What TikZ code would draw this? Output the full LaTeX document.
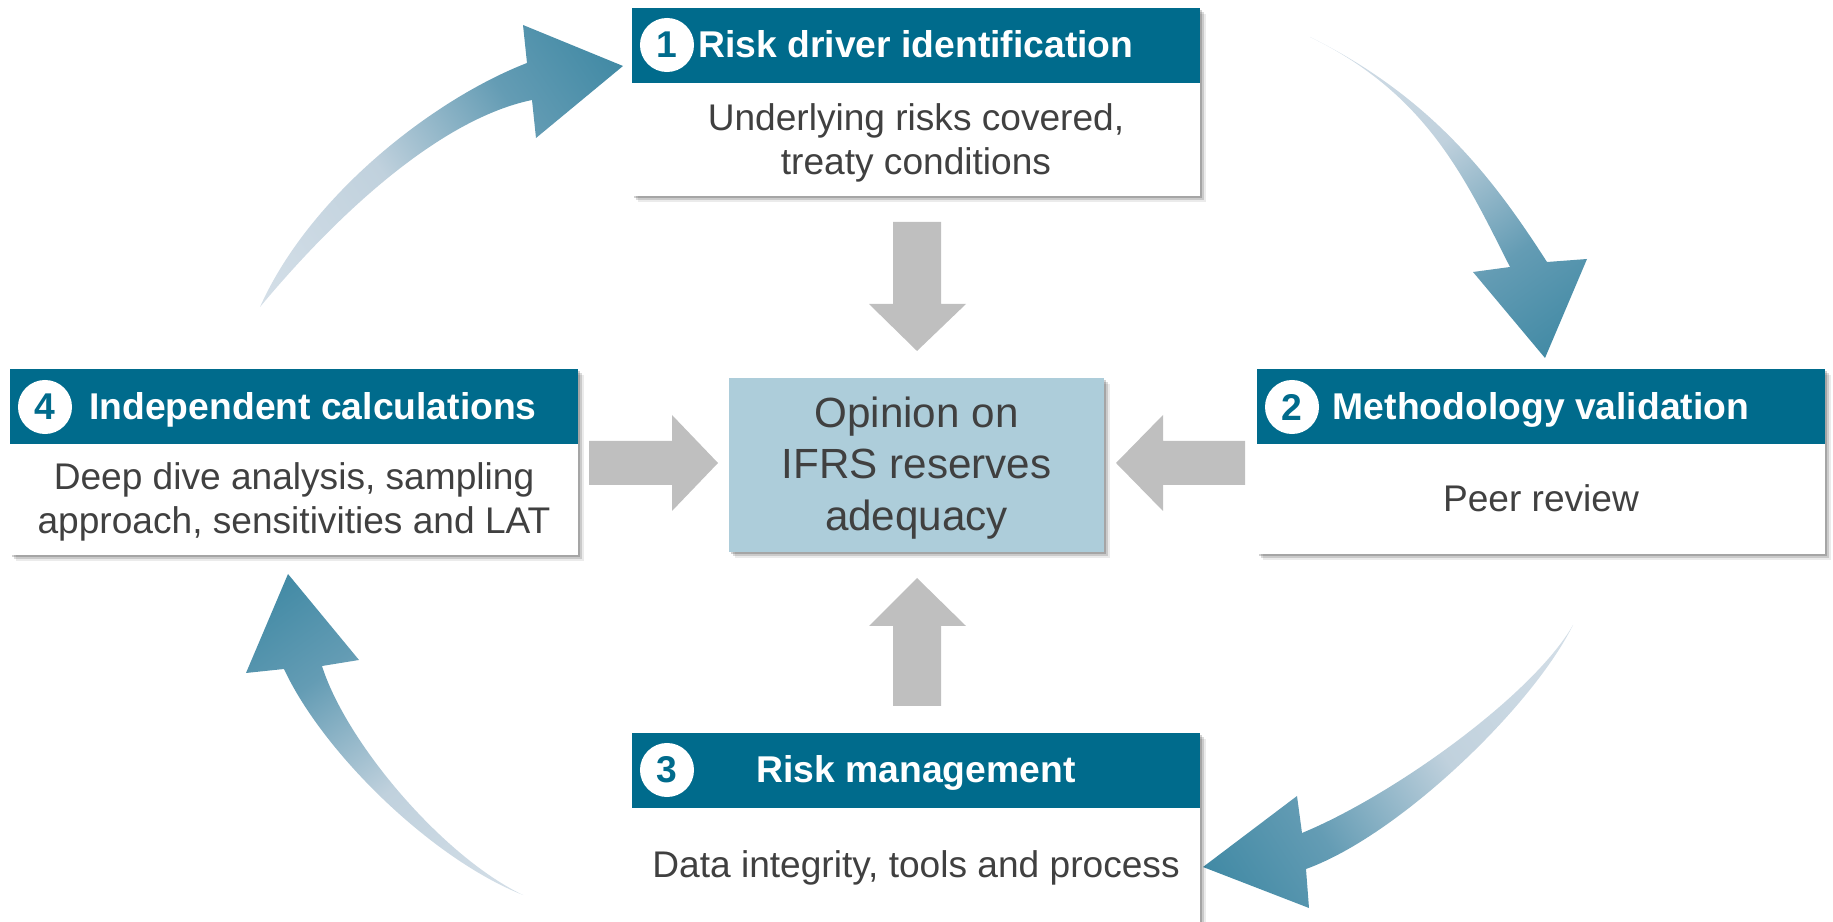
\documentclass[tikz,border=0pt]{standalone}
\usepackage{fontspec}
\setmainfont{Liberation Sans}
\usetikzlibrary{shadows}
\definecolor{hdrc}{RGB}{0,107,140}
\definecolor{txtc}{RGB}{64,64,64}
\definecolor{ctrc}{RGB}{173,205,218}
\definecolor{arrgray}{RGB}{191,191,191}
\definecolor{cl}{RGB}{224,231,238}
\definecolor{cm}{RGB}{192,209,221}
\definecolor{ck}{RGB}{100,156,180}
\definecolor{cd}{RGB}{28,118,148}
\pgfdeclarehorizontalshading{cycshade}{100bp}{color(0bp)=(cl); color(42bp)=(cm); color(64bp)=(ck); color(100bp)=(cd)}
\begin{document}
\begin{tikzpicture}[x=0.01cm,y=-0.01cm,
  softshadow/.style={
    drop shadow={shadow xshift=0.5pt, shadow yshift=-0.5pt, fill=black, opacity=0.18},
    drop shadow={shadow xshift=1.1pt, shadow yshift=-1.1pt, fill=black, opacity=0.14},
    drop shadow={shadow xshift=1.7pt, shadow yshift=-1.7pt, fill=black, opacity=0.08}},
  bodybox/.style={fill=white, inner sep=0, minimum width=5.68cm, softshadow},
  hdr/.style={fill=hdrc, inner sep=0, minimum width=5.68cm, minimum height=0.75cm},
  num/.style={circle, fill=white, inner sep=0, minimum size=0.54cm, text=hdrc,
    font=\fontsize{10.6}{12}\selectfont\bfseries},
  ttl/.style={text=white, anchor=base, inner sep=0, font=\fontsize{10.6}{12}\selectfont\bfseries},
  bodytxt/.style={text=txtc, align=center, inner sep=0, font=\fontsize{10.55}{12.5}\selectfont},
  ctrbox/.style={fill=ctrc, inner sep=0, minimum width=3.75cm, minimum height=1.74cm, softshadow},
  ctrtxt/.style={text=txtc, align=center, inner sep=0, font=\fontsize{12}{14.65}\selectfont},
  grayarrow/.style={fill=arrgray},
  cyc/.style={shading=cycshade}
]
\useasboundingbox (0,0) rectangle (1833,922);
\clip (0,0) rectangle (1833,922);

% curved cycle arrows
\shade[cyc, shading angle=34] (260,307) .. controls (310,195) and (434,99) .. (527,63)
  -- (523,25) -- (623,66) -- (536,138) -- (532,100)
  .. controls (445,118) and (345,205) .. (260,307) -- cycle;
\shade[cyc, shading angle=-54] (1310,37) .. controls (1436,99) and (1498,186) .. (1547,262)
  -- (1587,259) -- (1545,358) -- (1473,272) -- (1510,267)
  .. controls (1465,178) and (1427,94) .. (1310,37) -- cycle;
\shade[cyc, shading angle=213] (1573,625) .. controls (1533,706) and (1400,835) .. (1306,869)
  -- (1309,908) -- (1203,867) -- (1297,796) -- (1302,833)
  .. controls (1394,795) and (1533,695) .. (1573,625) -- cycle;
\shade[cyc, shading angle=126] (523,895) .. controls (430,858) and (322,751) .. (284,669)
  -- (246,673) -- (288,574) -- (359,660) -- (322,666)
  .. controls (346,742) and (442,856) .. (523,895) -- cycle;

% boxes
\node[bodybox, minimum height=1.88cm] (b1) at (916,102) {};
\node[hdr] (h1) at (916,45.5) {};
\node[num] (n1) at (667,45) {1};
\node[ttl] (t1) at (916,58) {Risk driver identification};
\node[bodytxt] (d1) at (916,143) {Underlying risks covered,\\treaty conditions};

\node[bodybox, minimum height=1.86cm] (b4) at (294,462) {};
\node[hdr] (h4) at (294,406.5) {};
\node[num] (n4) at (45,407) {4};
\node[ttl] (t4) at (313,420) {Independent calculations};
\node[bodytxt] (d4) at (294,502) {Deep dive analysis, sampling\\approach, sensitivities and LAT};

\node[bodybox, minimum height=1.85cm] (b2) at (1541,461.5) {};
\node[hdr] (h2) at (1541,406.5) {};
\node[num] (n2) at (1292,407) {2};
\node[ttl] (t2) at (1541,420) {Methodology validation};
\node[bodytxt, anchor=base] (d2) at (1541,512) {Peer review};

\node[bodybox, minimum height=2.1cm] (b3) at (916,838) {};
\node[hdr] (h3) at (916,770.5) {};
\node[num] (n3) at (667,770) {3};
\node[ttl] (t3) at (916,783) {Risk management};
\node[bodytxt, anchor=base] (d3) at (916,877) {Data integrity, tools and process};

% centre
\node[ctrbox] (c) at (916.5,465) {};
\node[ctrtxt] (ct) at (916.5,468) {Opinion on\\IFRS reserves\\adequacy};

% grey block arrows
\fill[grayarrow] (893,222) -- (941,222) -- (941,304) -- (966,304) -- (917,351) -- (869,304) -- (893,304) -- cycle;
\fill[grayarrow] (917,578) -- (966,626) -- (941,626) -- (941,706) -- (893,706) -- (893,626) -- (869,626) -- cycle;
\fill[grayarrow] (589,441) -- (672,441) -- (672,415) -- (718,463) -- (672,511) -- (672,485) -- (589,485) -- cycle;
\fill[grayarrow] (1245,441) -- (1163,441) -- (1163,415) -- (1116,463) -- (1163,511) -- (1163,485) -- (1245,485) -- cycle;
\end{tikzpicture}
\end{document}
